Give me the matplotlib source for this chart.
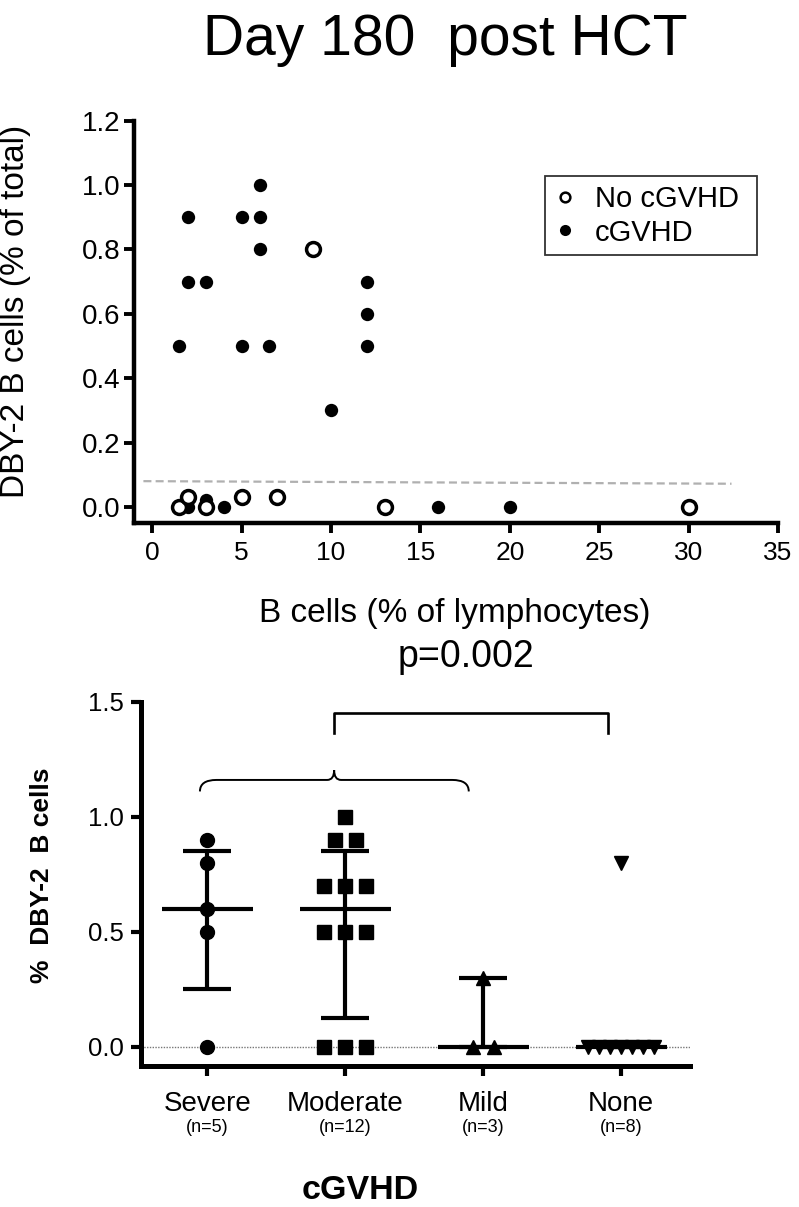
import numpy as np
import matplotlib
matplotlib.use('Agg')
import matplotlib.pyplot as plt
from matplotlib.path import Path
from matplotlib.patches import PathPatch
from matplotlib.lines import Line2D
import matplotlib.transforms as mtransforms

plt.rcParams['font.family'] = ['Liberation Sans', 'DejaVu Sans']

# top panel: B cells vs DBY-2 B cells
no_cgvhd_x = [9, 1.5, 2, 3, 5, 7, 13, 30]
no_cgvhd_y = [0.8, 0.0, 0.03, 0.0, 0.03, 0.03, 0.0, 0.0]
cgvhd_x = [6, 2, 5, 6, 6, 2, 3, 12, 12, 1.5, 5, 6.5, 12, 10, 2, 3, 4, 16, 20]
cgvhd_y = [1.0, 0.9, 0.9, 0.9, 0.8, 0.7, 0.7, 0.7, 0.6, 0.5, 0.5, 0.5, 0.5, 0.3,
           0.0, 0.02, 0.0, 0.0, 0.0]
cutoff_x = [-0.5, 32.4]
cutoff_y = [0.08, 0.072]

# bottom panel: DBY-2 B cells by cGVHD grade
groups = ['Severe', 'Moderate', 'Mild', 'None']
group_n = ['(n=5)', '(n=12)', '(n=3)', '(n=8)']
severe = [0.9, 0.8, 0.6, 0.5, 0.0]
moderate = [1.0, 0.9, 0.9, 0.7, 0.7, 0.7, 0.5, 0.5, 0.5, 0.0, 0.0, 0.0]
mild = [0.3, 0.0, 0.0]
none = [0.8, 0.0, 0.0, 0.0, 0.0, 0.0, 0.0, 0.0]
p_text = 'p=0.002'


def spread(vals, step=0.152, max_width=0.48):
    # side-by-side offsets for equal values (column scatter)
    vals = np.asarray(vals)
    offs = np.zeros(len(vals))
    for v in np.unique(vals):
        idx = np.where(vals == v)[0]
        k = len(idx)
        if k > 1:
            s = min(step, max_width / (k - 1))
            offs[idx] = (np.arange(k) - (k - 1) / 2) * s
    return offs


fig = plt.figure(figsize=(7.99, 12.07), dpi=100)

fig.text(0.557, 0.9544, 'Day 180  post HCT', ha='center', va='baseline', fontsize=41)

# ---- top scatter
ax1 = fig.add_axes([0.1683, 0.5667, 0.8054, 0.3333])
ax1.plot(cutoff_x, cutoff_y, color='#b0b0b0', lw=1.6, dashes=(3.6, 1.9), zorder=1)
ax1.plot(cgvhd_x, cgvhd_y, 'o', color='black', ms=9.6, mew=0, clip_on=False, zorder=3)
ax1.plot(no_cgvhd_x, no_cgvhd_y, 'o', mfc='white', mec='black', ms=10, mew=2.5,
         clip_on=False, zorder=4)
ax1.set_xlim(-1, 35)
ax1.set_ylim(-0.05, 1.2)
ax1.set_xticks(range(0, 36, 5))
ax1.set_yticks(np.arange(0, 1.21, 0.2))
ax1.yaxis.set_major_formatter('{x:.1f}')
for s in ['top', 'right']:
    ax1.spines[s].set_visible(False)
for s in ['left', 'bottom']:
    ax1.spines[s].set_linewidth(3.2)
ax1.tick_params(direction='out', length=7, width=2.8)
ax1.tick_params(axis='y', labelsize=20, pad=3)
ax1.tick_params(axis='x', labelsize=19, pad=6)

fig.text(0.569, 0.485, 'B cells (% of lymphocytes)', ha='center', va='baseline', fontsize=24)
fig.text(0.019, 0.742, 'DBY-2 B cells (% of total)', rotation=90, ha='center', va='center',
         fontsize=24)

handles = [Line2D([], [], marker='o', ls='none', mfc='white', mec='black', ms=7, mew=1.8),
           Line2D([], [], marker='o', ls='none', color='black', ms=8, mew=0)]
leg = fig.legend(handles, ['No cGVHD', 'cGVHD'], loc='upper left',
                 bbox_to_anchor=(0.682, 0.790, 0.265, 0.0642), mode='expand',
                 fontsize=21, frameon=True, fancybox=False, edgecolor='black',
                 borderpad=0.3, labelspacing=0.2, handlelength=0.8,
                 handletextpad=0.6, borderaxespad=0)
leg.get_frame().set_linewidth(1.3)

# ---- bottom column scatter
ax2 = fig.add_axes([0.1765, 0.1168, 0.6871, 0.3018])
ax2.set_xlim(0.52, 4.5)
ax2.set_ylim(-0.084, 1.5)
ax2.axhline(0, color='#777777', lw=1, ls=(0, (1, 1)), zorder=1)

markers = ['o', 's', '^', 'v']
for i, vals in enumerate([severe, moderate, mild, none]):
    xc = i + 1
    ax2.plot(xc + spread(vals), vals, markers[i], color='black', ms=10, ls='none',
             clip_on=False, zorder=3)
    q1, med, q3 = np.percentile(vals, [25, 50, 75], method='weibull')
    ax2.plot([xc - 0.33, xc + 0.33], [med, med], color='black', lw=3,
             solid_capstyle='butt', zorder=4)
    ax2.plot([xc, xc], [q1, q3], color='black', lw=3, solid_capstyle='butt', zorder=4)
    for q in (q1, q3):
        ax2.plot([xc - 0.175, xc + 0.175], [q, q], color='black', lw=3,
                 solid_capstyle='butt', zorder=4)

# curly brace over Severe..Mild and bracket to None
x0, xc, x1 = 0.947, 1.92, 2.896
yl, ye, yp = 1.16, 1.11, 1.203
verts = [(x0, ye), (x0, yl), (x0 + 0.12, yl),
         (xc - 0.05, yl),
         (xc, yl), (xc, yp),
         (xc, yl), (xc + 0.05, yl),
         (x1 - 0.12, yl),
         (x1, yl), (x1, ye)]
codes = [Path.MOVETO, Path.CURVE3, Path.CURVE3,
         Path.LINETO,
         Path.CURVE3, Path.CURVE3,
         Path.CURVE3, Path.CURVE3,
         Path.LINETO,
         Path.CURVE3, Path.CURVE3]
ax2.add_patch(PathPatch(Path(verts, codes), fill=False, lw=1.4, color='black',
                        clip_on=False))
ax2.plot([xc, xc, 3.908, 3.908], [1.365, 1.45, 1.45, 1.365], color='black', lw=1.9,
         clip_on=False)

ax2.set_xticks([1, 2, 3, 4])
ax2.set_xticklabels(groups)
ax2.set_yticks([0, 0.5, 1.0, 1.5])
ax2.yaxis.set_major_formatter('{x:.1f}')
for s in ['top', 'right']:
    ax2.spines[s].set_visible(False)
for s in ['left', 'bottom']:
    ax2.spines[s].set_linewidth(3.6)
ax2.tick_params(direction='out', length=7, width=3)
ax2.tick_params(axis='x', labelsize=20, pad=11)
ax2.tick_params(axis='y', labelsize=18.5, pad=5)

trans = mtransforms.blended_transform_factory(ax2.transData, ax2.transAxes)
for i, n in enumerate(group_n):
    ax2.text(i + 1, -0.169, n, transform=trans, ha='center', va='center', fontsize=13)

fig.text(0.583, 0.4477, p_text, ha='center', va='baseline', fontsize=27)
fig.text(0.053, 0.275, '%  DBY-2  B cells', rotation=90, ha='center', va='center',
         fontsize=19, fontweight='bold')
fig.text(0.4506, 0.0066, 'cGVHD', ha='center', va='baseline', fontsize=24.5,
         fontweight='bold')

fig.savefig('out.png', dpi=100)
